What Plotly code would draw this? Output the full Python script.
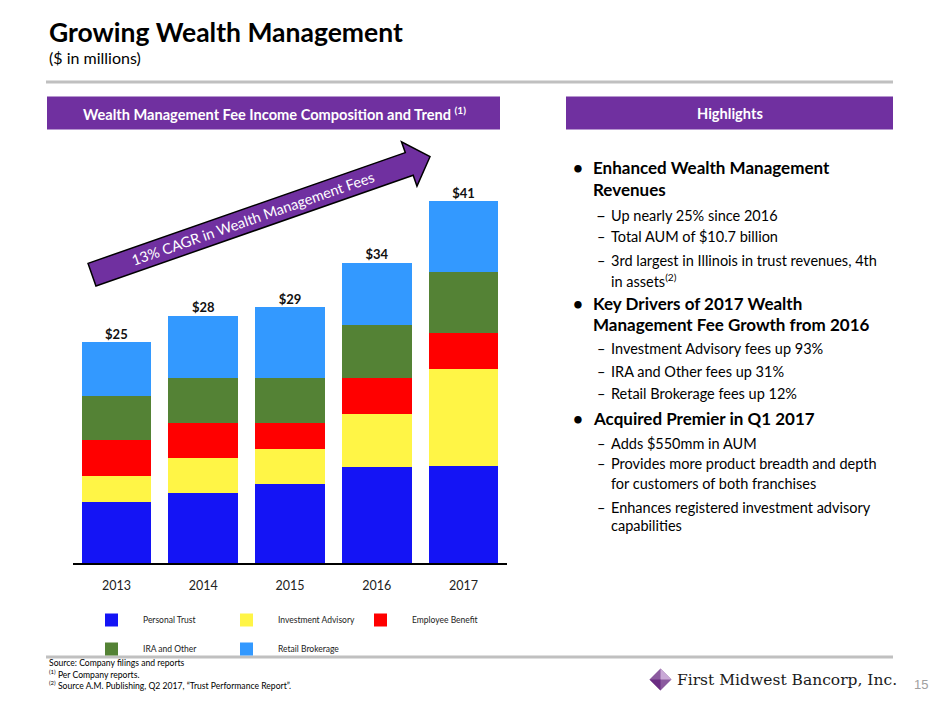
import math
import plotly.graph_objects as go

W, H = 940, 705

years = ["2013", "2014", "2015", "2016", "2017"]
series_names = ["Personal Trust", "Investment Advisory", "Employee Benefit", "IRA and Other", "Retail Brokerage"]
series_colors = ["#1414F5", "#FFF546", "#FF0000", "#548235", "#3399FF"]
personal_trust = [6.9, 7.9, 8.9, 10.9, 11.0]
investment_advisory = [3.0, 4.0, 4.0, 6.0, 11.0]
employee_benefit = [4.0, 4.0, 3.0, 4.0, 4.0]
ira_and_other = [5.0, 5.0, 5.0, 6.0, 7.0]
retail_brokerage = [6.1, 7.1, 8.1, 7.1, 8.0]
total_labels = ["$25", "$28", "$29", "$34", "$41"]

series_values = [personal_trust, investment_advisory, employee_benefit, ira_and_other, retail_brokerage]
totals = [sum(v) for v in zip(*series_values)]

FONT = "Lato"


def px(x):
    return x / W


def py(y):
    return 1 - y / H


fig = go.Figure()
for name, color, vals in zip(series_names, series_colors, series_values):
    fig.add_trace(go.Bar(x=years, y=vals, name=name, marker=dict(color=color, line=dict(width=0)),
                         showlegend=False, hoverinfo="y+name"))

fig.add_trace(go.Scatter(x=years, y=totals, mode="text", text=[f"<b>{t}</b>" for t in total_labels],
                         textposition="top center",
                         textfont=dict(family=FONT, size=13, color="#111111"), showlegend=False,
                         hoverinfo="skip", cliponaxis=False))

plot_top, plot_bottom = 165.6, 563
fig.update_layout(
    width=W, height=H, margin=dict(l=0, r=0, t=0, b=0),
    paper_bgcolor="white", plot_bgcolor="white",
    barmode="stack", bargap=0.2,
    xaxis=dict(domain=[px(73), px(507)], showgrid=False, showline=True, linecolor="#000000", linewidth=1.5,
               ticks="", ticklabelstandoff=10, tickfont=dict(family=FONT, size=12.5, color="#222222"),
               fixedrange=True),
    yaxis=dict(domain=[py(plot_bottom), py(plot_top)], range=[0, 45], visible=False, showgrid=False,
               fixedrange=True),
    font=dict(family=FONT),
)

shapes = []
annotations = []

# title
annotations.append(dict(x=px(47), y=py(32), xref="paper", yref="paper", xanchor="left", yanchor="middle",
                        text="<b>Growing Wealth Management</b>", showarrow=False,
                        font=dict(family=FONT, size=26.5, color="#000000")))
annotations.append(dict(x=px(47), y=py(57), xref="paper", yref="paper", xanchor="left", yanchor="middle",
                        text="($ in millions)", showarrow=False,
                        font=dict(family=FONT, size=16, color="#000000")))
# separator lines
shapes.append(dict(type="line", xref="paper", yref="paper", x0=px(46), x1=px(893), y0=py(82), y1=py(82),
                   line=dict(color="#C0C0C0", width=3)))
shapes.append(dict(type="line", xref="paper", yref="paper", x0=px(46), x1=px(893), y0=py(657), y1=py(657),
                   line=dict(color="#C0C0C0", width=3)))

# header boxes
PURPLE = "#7030A0"
shapes.append(dict(type="rect", xref="paper", yref="paper", x0=px(47), x1=px(500), y0=py(129.5), y1=py(96.5),
                   fillcolor=PURPLE, line=dict(width=0)))
shapes.append(dict(type="rect", xref="paper", yref="paper", x0=px(566), x1=px(893), y0=py(129.5), y1=py(96.5),
                   fillcolor=PURPLE, line=dict(width=0)))
annotations.append(dict(x=px(274), y=py(113), xref="paper", yref="paper", xanchor="center", yanchor="middle",
                        text="<b>Wealth Management Fee Income Composition and Trend <sup>(1)</sup></b>",
                        showarrow=False, font=dict(family=FONT, size=14.6, color="white")))
annotations.append(dict(x=px(729.5), y=py(113), xref="paper", yref="paper", xanchor="center", yanchor="middle",
                        text="<b>Highlights</b>", showarrow=False, font=dict(family=FONT, size=14.6, color="white")))

# arrow
T = (92.0, 274.7)
P = (430.0, 156.7)
L = math.hypot(P[0] - T[0], P[1] - T[1])
u = ((P[0] - T[0]) / L, (P[1] - T[1]) / L)
n = (-u[1], u[0])
B = (P[0] - 22 * u[0], P[1] - 22 * u[1])


def off(pt, k):
    return (pt[0] + k * n[0], pt[1] + k * n[1])


pts = [off(T, -12), off(B, -12), off(B, -23.5), P, off(B, 23.5), off(B, 12), off(T, 12)]
path = "M " + " L ".join(f"{px(a):.5f},{py(b):.5f}" for a, b in pts) + " Z"
shapes.append(dict(type="path", xref="paper", yref="paper", path=path, fillcolor=PURPLE,
                   line=dict(color="#000000", width=1.5)))
ang = math.degrees(math.atan2(-(P[1] - T[1]), P[0] - T[0]))
tc = (T[0] + 170 * u[0], T[1] + 170 * u[1])
annotations.append(dict(x=px(tc[0]), y=py(tc[1]), xref="paper", yref="paper", xanchor="center",
                        yanchor="middle", text="13% CAGR in Wealth Management Fees", textangle=-ang,
                        showarrow=False, font=dict(family=FONT, size=14.5, color="white")))

# legend
legend_pos = [(105, 620), (240, 620), (374, 620), (105, 649), (240, 649)]
for (lx, ly), name, color in zip(legend_pos, series_names, series_colors):
    shapes.append(dict(type="rect", xref="paper", yref="paper", x0=px(lx), x1=px(lx + 13),
                       y0=py(ly + 6.5), y1=py(ly - 6.5), fillcolor=color, line=dict(width=0)))
    annotations.append(dict(x=px(lx + 35.5), y=py(ly), xref="paper", yref="paper", xanchor="left",
                            yanchor="middle", text=name, showarrow=False,
                            font=dict(family=FONT, size=8.5, color="#222222")))

# highlights
bx, tx, dx, sx = 578, 591, 601, 609
bold_lines = [
    (167, "Enhanced Wealth Management", True),
    (189, "Revenues", False),
    (303, "Key Drivers of 2017 Wealth", True),
    (324, "Management Fee Growth from 2016", False),
    (418, "Acquired Premier in Q1 2017", True),
]
for y, t, bullet in bold_lines:
    if bullet:
        annotations.append(dict(x=px(bx), y=py(y), xref="paper", yref="paper", xanchor="center",
                                yanchor="middle", text="<b>•</b>", showarrow=False,
                                font=dict(family=FONT, size=17, color="#000000")))
    annotations.append(dict(x=px(tx), y=py(y), xref="paper", yref="paper", xanchor="left", yanchor="middle",
                            text=f"<b>{t}</b>", showarrow=False, font=dict(family=FONT, size=17, color="#000000")))

sub_lines = [
    (215, "Up nearly 25% since 2016", True),
    (237, "Total AUM of $10.7 billion", True),
    (260, "3rd largest in Illinois in trust revenues, 4th", True),
    (280, "in assets<sup>(2)</sup>", False),
    (348, "Investment Advisory fees up 93%", True),
    (371, "IRA and Other fees up 31%", True),
    (393, "Retail Brokerage fees up 12%", True),
    (443, "Adds $550mm in AUM", True),
    (464, "Provides more product breadth and depth", True),
    (483, "for customers of both franchises", False),
    (507, "Enhances registered investment advisory", True),
    (525, "capabilities", False),
]
for i, (y, t, dash) in enumerate(sub_lines):
    if dash:
        annotations.append(dict(x=px(dx), y=py(y), xref="paper", yref="paper", xanchor="center",
                                yanchor="middle", text="–", showarrow=False,
                                font=dict(family=FONT, size=14.5 if i else 17, color="#000000")))
    annotations.append(dict(x=px(sx), y=py(y), xref="paper", yref="paper", xanchor="left", yanchor="middle",
                            text=t, showarrow=False, font=dict(family=FONT, size=14.5, color="#000000")))

# footnotes
foot = [
    (663, "Source: Company filings and reports"),
    (674, "<sup>(1)</sup> Per Company reports."),
    (685, "<sup>(2)</sup> Source A.M. Publishing, Q2 2017, “Trust Performance Report”."),
]
for y, t in foot:
    annotations.append(dict(x=px(47), y=py(y), xref="paper", yref="paper", xanchor="left", yanchor="middle",
                            text=t, showarrow=False, font=dict(family=FONT, size=8.6, color="#000000")))

# logo
cx, cy, r = 660.5, 679.5, 11
shapes.append(dict(type="path", xref="paper", yref="paper",
                   path=f"M {px(cx):.5f},{py(cy - r):.5f} L {px(cx + r):.5f},{py(cy):.5f} "
                        f"L {px(cx):.5f},{py(cy + r):.5f} L {px(cx - r):.5f},{py(cy):.5f} Z",
                   fillcolor="#8B5A9E", line=dict(width=0)))
shapes.append(dict(type="path", xref="paper", yref="paper",
                   path=f"M {px(cx):.5f},{py(cy - r):.5f} L {px(cx + r):.5f},{py(cy):.5f} "
                        f"L {px(cx):.5f},{py(cy):.5f} Z",
                   fillcolor="#C9A9D6", line=dict(width=0)))
shapes.append(dict(type="path", xref="paper", yref="paper",
                   path=f"M {px(cx - r):.5f},{py(cy):.5f} L {px(cx):.5f},{py(cy):.5f} "
                        f"L {px(cx):.5f},{py(cy + r):.5f} Z",
                   fillcolor="#6A2C82", line=dict(width=0)))
annotations.append(dict(x=px(675), y=py(680), xref="paper", yref="paper", xanchor="left", yanchor="middle",
                        text="First Midwest Bancorp, Inc.", showarrow=False,
                        font=dict(family="DejaVu Serif", size=15.5, color="#1a1a1a")))
annotations.append(dict(x=px(921), y=py(684), xref="paper", yref="paper", xanchor="center", yanchor="middle",
                        text="15", showarrow=False, font=dict(family="Liberation Sans", size=13, color="#A0A0A0")))

fig.update_layout(shapes=shapes, annotations=annotations)
fig.write_html("out.html", config={"displayModeBar": False},
               post_script="document.body.style.margin='0px';document.body.style.overflow='hidden';")
